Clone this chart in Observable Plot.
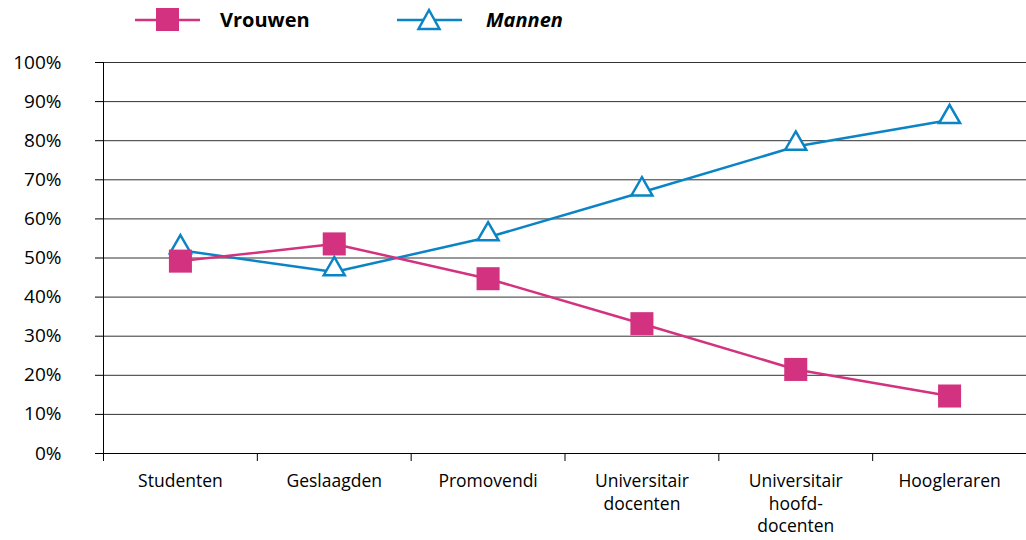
<!DOCTYPE html>
<html>
<head>
<meta charset="utf-8">
<script src="https://cdn.jsdelivr.net/npm/d3@7"></script>
<script src="https://cdn.jsdelivr.net/npm/@observablehq/plot@0.6"></script>
<style>
  body { margin: 0; background: #fff; font-family: "Open Sans", sans-serif; }
  #legend { height: 40px; }
</style>
</head>
<body>
<div id="legend">
  <svg width="1026" height="40">
    <line x1="135" x2="200" y1="20" y2="20" stroke="#D2327F" stroke-width="2.5"/>
    <rect x="156" y="8" width="23" height="23" fill="#D2327F"/>
    <text x="220" y="27" font-family="Open Sans" font-weight="bold" font-size="20">Vrouwen</text>
    <line x1="397" x2="462" y1="20" y2="20" stroke="#0B84C6" stroke-width="2.5"/>
    <path d="M429,10 L439.5,29 L418.5,29 Z" fill="#fff" stroke="#0B84C6" stroke-width="2.5"/>
    <text x="486" y="27" font-family="Open Sans" font-weight="bold" font-style="italic" font-size="20">Mannen</text>
  </svg>
</div>
<div id="chart"></div>
<script>
const categories = ["Studenten", "Geslaagden", "Promovendi", "Universitair\ndocenten", "Universitair\nhoofd-\ndocenten", "Hoogleraren"];
const vrouwen = [49.2, 53.6, 44.7, 33.2, 21.5, 14.7];
const mannen = [52.0, 46.4, 55.3, 66.8, 78.5, 85.3];
const yTicks = [0, 10, 20, 30, 40, 50, 60, 70, 80, 90, 100];

const pink = "#D2327F";
const blue = "#0B84C6";

const data = categories.map((c, i) => ({cat: c, pos: i + 0.5, vrouwen: vrouwen[i], mannen: mannen[i]}));
const boundaries = d3.range(categories.length + 1);

const chart = Plot.plot({
  width: 1026,
  height: 500,
  marginTop: 22,
  marginBottom: 87,
  marginLeft: 103,
  marginRight: 0,
  x: {domain: [0, categories.length], axis: null},
  y: {domain: [0, 100], axis: null},
  style: {fontFamily: "Open Sans", fontSize: "19px", color: "#000", background: "#fff"},
  marks: [
    Plot.ruleY(yTicks.filter(d => d > 0), {stroke: "#333", strokeWidth: 1}),
    Plot.axisY({ticks: yTicks, tickSize: 8, tickPadding: 34, tickFormat: d => d + "%", fontSize: 19, label: null}),
    Plot.axisX({ticks: boundaries, tickSize: 8, tickFormat: () => "", label: null}),
    Plot.ruleX([0], {y1: 0, y2: 100, stroke: "#000"}),
    Plot.ruleY([0], {stroke: "#000"}),
    Plot.line(data, {x: "pos", y: "mannen", stroke: blue, strokeWidth: 2.5}),
    Plot.dot(data, {x: "pos", y: "mannen", symbol: "triangle", r: 7.8, stroke: blue, strokeWidth: 2.5, fill: "#fff", dy: -3}),
    Plot.line(data, {x: "pos", y: "vrouwen", stroke: pink, strokeWidth: 2.5}),
    Plot.dot(data, {x: "pos", y: "vrouwen", symbol: "square", r: 13, fill: pink, stroke: "none"}),
    Plot.text(data, {x: "pos", text: "cat", frameAnchor: "bottom", dy: 18, lineAnchor: "top", lineHeight: 1.27, fontSize: 17.5})
  ]
});
document.getElementById("chart").appendChild(chart);
</script>
</body>
</html>
